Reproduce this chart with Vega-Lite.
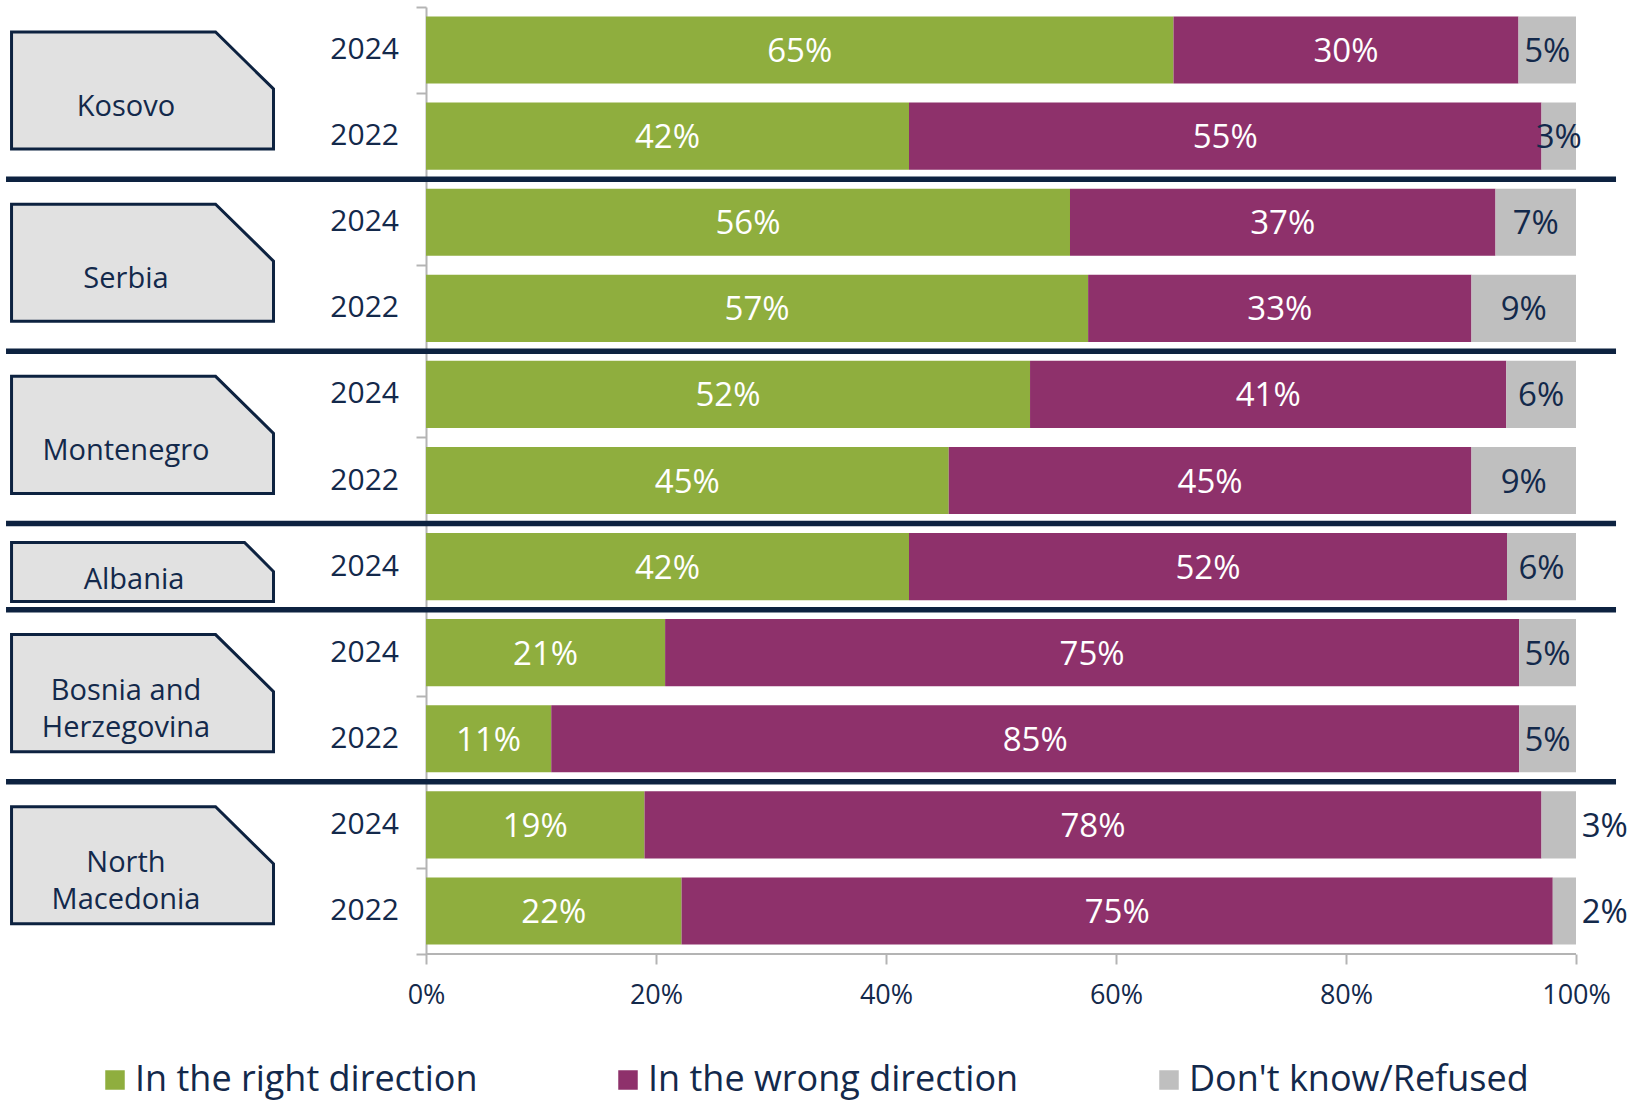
{
  "$schema": "https://vega.github.io/schema/vega-lite/v6.json",
  "width": 1646,
  "height": 947,
  "autosize": {"type": "none"},
  "padding": {"left": 0, "top": 7, "right": 0, "bottom": 147},
  "background": "#ffffff",
  "config": {"view": {"stroke": null}, "font": "Open Sans"},
  "datasets": {
    "survey": [
      {"country": "Kosovo", "year": "2024", "response": "In the right direction", "value": 65},
      {"country": "Kosovo", "year": "2024", "response": "In the wrong direction", "value": 30},
      {"country": "Kosovo", "year": "2024", "response": "Don't know/Refused", "value": 5},
      {"country": "Kosovo", "year": "2022", "response": "In the right direction", "value": 42},
      {"country": "Kosovo", "year": "2022", "response": "In the wrong direction", "value": 55},
      {"country": "Kosovo", "year": "2022", "response": "Don't know/Refused", "value": 3},
      {"country": "Serbia", "year": "2024", "response": "In the right direction", "value": 56},
      {"country": "Serbia", "year": "2024", "response": "In the wrong direction", "value": 37},
      {"country": "Serbia", "year": "2024", "response": "Don't know/Refused", "value": 7},
      {"country": "Serbia", "year": "2022", "response": "In the right direction", "value": 57},
      {"country": "Serbia", "year": "2022", "response": "In the wrong direction", "value": 33},
      {"country": "Serbia", "year": "2022", "response": "Don't know/Refused", "value": 9},
      {"country": "Montenegro", "year": "2024", "response": "In the right direction", "value": 52},
      {"country": "Montenegro", "year": "2024", "response": "In the wrong direction", "value": 41},
      {"country": "Montenegro", "year": "2024", "response": "Don't know/Refused", "value": 6},
      {"country": "Montenegro", "year": "2022", "response": "In the right direction", "value": 45},
      {"country": "Montenegro", "year": "2022", "response": "In the wrong direction", "value": 45},
      {"country": "Montenegro", "year": "2022", "response": "Don't know/Refused", "value": 9},
      {"country": "Albania", "year": "2024", "response": "In the right direction", "value": 42},
      {"country": "Albania", "year": "2024", "response": "In the wrong direction", "value": 52},
      {"country": "Albania", "year": "2024", "response": "Don't know/Refused", "value": 6},
      {"country": "Bosnia and Herzegovina", "year": "2024", "response": "In the right direction", "value": 21},
      {"country": "Bosnia and Herzegovina", "year": "2024", "response": "In the wrong direction", "value": 75},
      {"country": "Bosnia and Herzegovina", "year": "2024", "response": "Don't know/Refused", "value": 5},
      {"country": "Bosnia and Herzegovina", "year": "2022", "response": "In the right direction", "value": 11},
      {"country": "Bosnia and Herzegovina", "year": "2022", "response": "In the wrong direction", "value": 85},
      {"country": "Bosnia and Herzegovina", "year": "2022", "response": "Don't know/Refused", "value": 5},
      {"country": "North Macedonia", "year": "2024", "response": "In the right direction", "value": 19},
      {"country": "North Macedonia", "year": "2024", "response": "In the wrong direction", "value": 78},
      {"country": "North Macedonia", "year": "2024", "response": "Don't know/Refused", "value": 3},
      {"country": "North Macedonia", "year": "2022", "response": "In the right direction", "value": 22},
      {"country": "North Macedonia", "year": "2022", "response": "In the wrong direction", "value": 75},
      {"country": "North Macedonia", "year": "2022", "response": "Don't know/Refused", "value": 2}
    ],
    "groups": [
      {"country": "Kosovo", "label": "Kosovo", "n": 2},
      {"country": "Serbia", "label": "Serbia", "n": 2},
      {"country": "Montenegro", "label": "Montenegro", "n": 2},
      {"country": "Albania", "label": "Albania", "n": 1},
      {"country": "Bosnia and Herzegovina", "label": "Bosnia and\nHerzegovina", "n": 2},
      {"country": "North Macedonia", "label": "North\nMacedonia", "n": 2}
    ]
  },
  "resolve": {"scale": {"y": "independent"}},
  "layer": [
    {
      "data": {"name": "survey"},
      "transform": [
        {"calculate": "datum.country + ' ' + datum.year", "as": "key"},
        {"calculate": "indexof(['In the right direction', 'In the wrong direction', \"Don't know/Refused\"], datum.response)", "as": "ord"},
        {"stack": "value", "groupby": ["key"], "sort": [{"field": "ord", "order": "ascending"}], "offset": "normalize", "as": ["v0", "v1"]},
        {"calculate": "datum.country === 'North Macedonia' && datum.ord === 2 ? 1.025 : (datum.v0 + datum.v1) / 2", "as": "labelX"},
        {"calculate": "datum.value + '%'", "as": "pct"}
      ],
      "encoding": {
        "y": {"field": "key", "type": "nominal", "sort": null, "scale": {"paddingInner": 0.22, "paddingOuter": 0.11}, "axis": null}
      },
      "layer": [
        {
          "mark": {"type": "bar"},
          "encoding": {
            "x": {
              "field": "v0", "type": "quantitative", "title": null,
              "scale": {"domain": [-0.370435, 1.06087], "nice": false, "zero": false},
              "axis": {"orient": "bottom", "zindex": 1, "values": [0, 0.2, 0.4, 0.6, 0.8, 1], "format": ".0%", "domain": false, "grid": false, "tickSize": 10, "tickWidth": 2, "tickColor": "#b4b4b4", "labelFontSize": 27, "labelColor": "#13294b", "labelPadding": 18, "title": null}
            },
            "x2": {"field": "v1"},
            "color": {
              "field": "response", "type": "nominal",
              "scale": {"domain": ["In the right direction", "In the wrong direction", "Don't know/Refused"], "range": ["#8fae3e", "#8e316b", "#bfbfbf"]},
              "legend": {"orient": "none", "legendX": 97, "legendY": 1055, "direction": "horizontal", "columns": 3, "title": null, "symbolType": "square", "symbolSize": 380, "symbolStrokeWidth": 0, "symbolOpacity": 1, "labelFontSize": 36, "labelColor": "#13294b", "labelLimit": 0, "columnPadding": 132, "labelOffset": 2, "padding": 0}
            }
          }
        },
        {
          "mark": {"type": "text", "fontSize": 33, "align": "center", "baseline": "middle", "dy": 2},
          "encoding": {
            "x": {"field": "labelX", "type": "quantitative", "title": null, "scale": {"domain": [-0.370435, 1.06087], "nice": false, "zero": false}},
            "text": {"field": "pct", "type": "nominal"},
            "color": {"condition": {"test": "datum.ord === 2", "value": "#13294b"}, "value": "#ffffff"}
          }
        },
        {
          "mark": {"type": "text", "fontSize": 30, "align": "right", "baseline": "middle", "color": "#13294b"},
          "encoding": {
            "x": {"datum": -0.02348, "type": "quantitative", "title": null, "scale": {"domain": [-0.370435, 1.06087], "nice": false, "zero": false}},
            "text": {"condition": {"test": "datum.ord === 0", "field": "year", "type": "nominal"}, "value": ""}
          }
        }
      ]
    },
    {
      "data": {"name": "groups"},
      "transform": [
        {"window": [{"op": "sum", "field": "n", "as": "cum"}], "frame": [null, 0], "ignorePeers": true},
        {"calculate": "datum.cum - datum.n", "as": "s"},
        {"calculate": "datum.s + datum.n * 0.5 + 0.16 - (length(split(datum.label, '\\n')) - 1) * 0.215", "as": "ty"},
        {"calculate": "datum.n === 1 ? -0.2539 : -0.2609", "as": "tx"}
      ],
      "layer": [
        {
          "transform": [
            {"calculate": "[0, 1, 2]", "as": "k"},
            {"flatten": ["k"]},
            {"calculate": "datum.s + (datum.n === 1 ? 0.22 : 0.29)", "as": "top"},
            {"calculate": "datum.s + (datum.n === 1 ? 0.905 : 1.65)", "as": "bot"},
            {"calculate": "datum.k === 0 ? -0.3604 : (datum.k === 1 ? (datum.n === 1 ? -0.1578 : -0.1830) : -0.1326)", "as": "bx"},
            {"calculate": "datum.k === 2 ? datum.top + (datum.n === 1 ? 0.337 : 0.662) : datum.top", "as": "by"}
          ],
          "mark": {"type": "area", "fill": "#e1e1e1", "stroke": "#0d2240", "strokeWidth": 3, "interpolate": "linear", "opacity": 1, "fillOpacity": 1},
          "encoding": {
            "x": {"field": "bx", "type": "quantitative", "title": null, "scale": {"domain": [-0.370435, 1.06087], "nice": false, "zero": false}},
            "y": {"field": "by", "type": "quantitative", "title": null, "stack": null, "scale": {"domain": [0, 11], "reverse": true, "nice": false, "zero": false}},
            "y2": {"field": "bot"},
            "detail": {"field": "country", "type": "nominal"}
          }
        },
        {
          "mark": {"type": "text", "fontSize": 29, "color": "#13294b", "align": "center", "baseline": "middle", "lineBreak": "\n", "lineHeight": 37},
          "encoding": {
            "x": {"field": "tx", "type": "quantitative", "title": null, "scale": {"domain": [-0.370435, 1.06087], "nice": false, "zero": false}},
            "y": {"field": "ty", "type": "quantitative", "title": null, "scale": {"domain": [0, 11], "reverse": true, "nice": false, "zero": false}},
            "text": {"field": "label", "type": "nominal"}
          }
        },
        {
          "transform": [{"filter": "datum.s > 0"}],
          "mark": {"type": "rule", "color": "#0d2240", "strokeWidth": 5.5},
          "encoding": {
            "x": {"datum": -0.3652, "type": "quantitative", "title": null, "scale": {"domain": [-0.370435, 1.06087], "nice": false, "zero": false}},
            "x2": {"datum": 1.0348},
            "y": {
              "field": "s", "type": "quantitative", "title": null,
              "scale": {"domain": [0, 11], "reverse": true, "nice": false, "zero": false},
              "axis": {"orient": "left", "offset": -426, "values": [0, 1, 2, 3, 4, 5, 6, 7, 8, 9, 10, 11], "labels": false, "tickSize": 10, "tickWidth": 2, "tickColor": "#b4b4b4", "domainColor": "#b4b4b4", "domainWidth": 2, "grid": false, "title": null}
            }
          }
        },
        {
          "data": {"values": [{}]},
          "mark": {"type": "rule", "color": "#b4b4b4", "strokeWidth": 2},
          "encoding": {
            "x": {"datum": 0, "type": "quantitative", "title": null, "scale": {"domain": [-0.370435, 1.06087], "nice": false, "zero": false}},
            "x2": {"datum": 1},
            "y": {"datum": 11, "type": "quantitative", "title": null, "scale": {"domain": [0, 11], "reverse": true, "nice": false, "zero": false}}
          }
        }
      ]
    }
  ]
}
